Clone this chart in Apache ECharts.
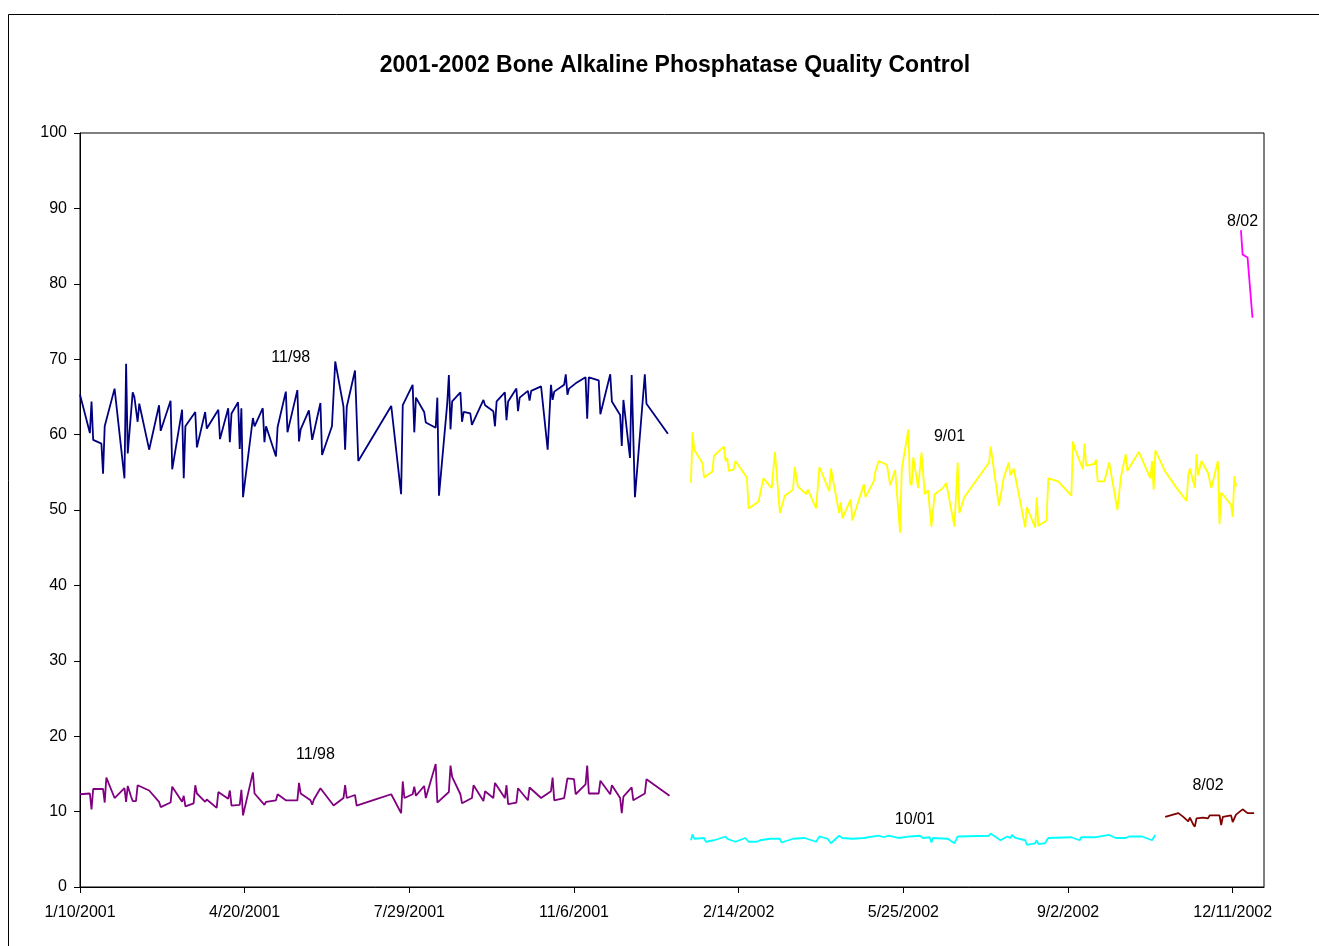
<!DOCTYPE html>
<html>
<head>
<meta charset="utf-8">
<title>2001-2002 Bone Alkaline Phosphatase Quality Control</title>
<script src="https://cdn.jsdelivr.net/npm/echarts@6/dist/echarts.min.js"></script>
<style>
  html, body { margin: 0; padding: 0; background: #fff; }
  #main { width: 1319px; height: 946px; }
</style>
</head>
<body>
<div id="main"></div>
<script>
// days are counted from 1/10/2001
var baseDate = Date.UTC(2001, 0, 10);
var dayTicks = [0, 100, 200, 300, 400, 500, 600, 700];

var navyDays = [0,6,7,8,13,14,15,21,27,28,29,32,33,35,36,42,48,49,55,56,62,63,64,70,71,76,77,84,85,90,91,92,96,97,98,99,105,106,111,112,113,
  119,120,125,126,132,133,134,139,140,141,146,147,153,155,160,161,162,167,169,189,195,196,202,203,204,209,210,216,217,218,223,224,225,226,231,232,233,237,
  238,245,246,251,252,253,258,259,260,265,266,267,272,273,274,280,284,286,287,288,294,295,296,297,301,302,307,308,309,315,316,322,323,328,329,330,334,335,337,343,344,357];
var navyVals = [65.3,60.2,64.4,59.3,58.8,54.8,61.1,66.1,54.2,69.4,57.5,65.6,65.0,61.7,64.1,58.0,63.9,60.5,64.5,55.4,63.3,54.2,61.1,63.0,58.3,63.0,60.8,63.3,59.4,63.5,59.0,62.8,64.3,58.1,63.5,51.7,62.2,61.1,63.5,59.0,61.1,
  57.1,61.0,65.7,60.3,65.9,59.1,60.7,63.2,63.0,59.3,64.2,57.3,61.1,69.7,63.7,58.0,63.7,68.5,56.5,63.8,52.1,63.9,66.6,60.3,64.9,63.0,61.6,60.9,64.9,51.9,64.1,67.9,60.7,64.4,65.6,61.7,63.0,62.8,
  61.3,64.6,63.9,63.1,61.1,64.4,65.6,61.9,64.4,66.1,63.1,64.9,65.8,64.5,65.8,66.4,58.0,66.6,64.6,65.7,66.6,68.0,65.3,66.1,66.8,66.6,67.6,62.1,67.6,67.2,62.7,68.0,64.4,62.6,58.5,64.6,56.9,67.9,51.7,68.0,64.1,60.1];

var purpleDays = [0,6,7,8,14,15,16,21,27,28,29,31,32,34,35,42,43,48,49,55,56,62,63,64,69,70,71,76,77,83,84,90,91,92,97,98,99,105,106,112,113,119,120,125,126,132,133,134,140,141,142,146,154,160,161,162,167,168,179,
  189,195,196,197,202,203,204,209,210,216,217,224,225,226,231,232,238,239,245,246,251,252,258,259,260,265,266,272,273,280,286,287,288,294,295,296,300,301,307,308,309,315,316,322,323,328,329,330,335,336,343,344,358];
var purpleVals = [12.3,12.4,10.3,13.0,13.0,11.2,14.5,11.8,13.1,11.3,13.4,12.0,11.4,11.4,13.5,12.8,12.7,11.3,10.6,11.2,13.3,11.3,12.1,10.7,11.1,13.5,12.4,11.3,11.6,10.5,12.6,11.7,12.8,10.8,10.9,12.9,9.5,15.2,12.4,10.9,11.3,11.5,12.3,11.5,11.6,11.5,13.8,12.4,11.5,10.9,11.6,13.1,10.8,11.8,13.5,11.8,12.2,10.8,11.6,
  12.3,9.8,14.0,11.8,12.3,13.3,12.1,13.4,11.8,16.3,11.2,12.6,16.1,14.6,12.3,11.1,11.8,13.5,11.4,12.7,11.8,13.8,11.8,13.5,11.0,11.2,13.1,11.5,13.2,11.8,12.7,14.5,11.5,11.8,13.1,14.4,14.3,12.3,13.6,16.1,12.4,12.4,14.1,12.3,13.5,11.8,9.8,12.0,13.2,11.5,12.4,14.3,12.1];

var yellowDays = [371,372,373,378,379,380,384,385,391,392,393,394,397,398,405,406,412,415,420,422,425,428,433,434,436,441,442,447,449,455,456,461,462,463,468,469,476,477,
  482,483,484,485,490,492,495,498,499,503,504,505,506,509,511,513,515,517,519,524,526,531,532,533,534,537,552,553,558,561,564,565,567,574,575,580,581,582,587,588,
  594,602,603,604,609,610,611,616,617,618,622,625,630,632,635,636,643,650,651,652,653,659,666,672,673,674,677,678,679,681,685,687,691,692,693,699,700,701,702];
var yellowVals = [53.6,60.3,58.0,56.2,54.3,54.4,55.1,57.2,58.4,56.5,56.9,55.2,55.4,56.5,54.3,50.2,51.1,54.2,52.9,57.7,49.6,51.9,52.7,55.7,53.1,52.1,52.7,50.2,55.7,52.5,55.5,49.6,51.0,48.9,51.4,48.6,53.4,51.7,
  53.8,55.1,55.0,56.5,56.0,53.3,55.3,47.0,55.4,60.7,53.6,53.3,57.0,52.9,57.6,52.1,52.6,47.8,52.1,52.9,53.6,47.8,47.6,56.3,49.6,51.7,56.3,58.4,50.6,54.3,56.3,54.6,55.5,47.7,50.4,47.7,51.7,47.9,48.6,54.2,
  53.8,51.9,59.1,58.2,55.4,58.8,55.9,56.1,56.7,53.8,53.8,56.3,50.0,54.3,57.4,55.2,57.7,54.2,56.5,52.7,57.9,55.1,52.9,51.2,54.6,55.5,52.9,57.4,54.6,56.5,54.9,52.9,56.5,48.1,52.3,50.7,49.1,54.5,53.1];

var cyanDays = [371,372,373,379,380,385,388,392,393,398,404,406,411,413,414,419,425,426,433,440,447,449,454,456,461,463,469,476,477,485,488,491,497,498,504,510,
  512,516,517,518,527,531,533,552,553,559,563,565,566,568,574,575,580,581,582,586,588,602,607,608,617,625,629,635,637,645,651,652,653];
var cyanVals = [6.2,7.0,6.4,6.5,6.0,6.2,6.4,6.7,6.4,6.0,6.5,6.0,6.0,6.2,6.0,6.4,6.4,5.9,6.4,6.5,6.0,6.7,6.4,5.8,6.8,6.5,6.4,6.5,6.7,6.8,6.6,6.8,6.5,6.7,6.7,6.8,
  6.5,6.6,5.9,6.5,6.4,5.8,6.7,6.8,7.1,6.2,6.7,6.5,6.9,6.5,6.2,5.6,5.8,6.2,5.7,5.8,6.5,6.6,6.2,6.6,6.6,6.9,6.5,6.5,6.7,6.7,6.2,6.0,6.9];

var darkRedDays = [659,667,670,673,674,676,677,678,682,685,686,688,692,693,694,699,700,702,703,706,709,713];
var darkRedVals = [9.3,9.8,9.3,8.7,9.2,8.3,8.0,9.1,9.2,9.1,9.5,9.5,9.5,8.2,9.3,9.5,8.6,9.6,9.8,10.3,9.8,9.8];

var magentaDays = [705,706,709,712];
var magentaVals = [87.1,83.9,83.5,75.5];

function pairs(days, vals) {
  return days.map(function (d, i) { return [d, vals[i]]; });
}
function dayLabel(d) {
  var dt = new Date(baseDate + d * 86400000);
  return (dt.getUTCMonth() + 1) + '/' + dt.getUTCDate() + '/' + dt.getUTCFullYear();
}
function tag(text, coord) {
  return {
    symbol: 'circle', symbolSize: 0,
    label: { show: true, position: 'inside', color: '#000', fontSize: 16, fontFamily: 'Liberation Sans, Arial' },
    data: [{ coord: coord, value: text }]
  };
}
function lineSeries(name, color, days, vals, mark) {
  return {
    name: name, type: 'line', showSymbol: false, symbol: 'none',
    lineStyle: { color: color, width: 1.8 },
    itemStyle: { color: color },
    data: pairs(days, vals),
    markPoint: mark
  };
}

var chart = echarts.init(document.getElementById('main'));
var font = 'Liberation Sans, Arial';
var option = {
  animation: false,
  backgroundColor: '#fff',
  title: {
    text: '2001-2002 Bone Alkaline Phosphatase Quality Control',
    left: 670, top: 49, textAlign: 'center',
    textStyle: { fontFamily: font, fontSize: 23, fontWeight: 'bold', color: '#000' }
  },
  graphic: [{
    type: 'rect', silent: true,
    shape: { x: 8.5, y: 14.5, width: 1400, height: 1000 },
    style: { fill: 'none', stroke: '#000', lineWidth: 1 }
  }],
  grid: { left: 80, right: 55, top: 133, bottom: 59, show: true, borderColor: '#000', borderWidth: 1, backgroundColor: 'transparent' },
  xAxis: {
    type: 'value', min: 0, max: 719, interval: 100,
    splitLine: { show: false },
    axisLine: { lineStyle: { color: '#000' } },
    axisTick: { length: 6, lineStyle: { color: '#000' }, customValues: dayTicks },
    axisLabel: { color: '#000', fontSize: 16, fontFamily: font, margin: 18, customValues: dayTicks, formatter: dayLabel }
  },
  yAxis: {
    type: 'value', min: 0, max: 100, interval: 10,
    splitLine: { show: false },
    axisLine: { show: true, lineStyle: { color: '#000' } },
    axisTick: { show: true, length: 6, lineStyle: { color: '#000' } },
    axisLabel: { color: '#000', fontSize: 16, fontFamily: font, margin: 13 }
  },
  series: [
    lineSeries('11/98 high', '#000080', navyDays, navyVals, tag('11/98', [128, 70.2])),
    lineSeries('11/98 low', '#800080', purpleDays, purpleVals, tag('11/98', [143, 17.5])),
    lineSeries('9/01', '#FFFF00', yellowDays, yellowVals, tag('9/01', [528, 59.8])),
    lineSeries('10/01', '#00FFFF', cyanDays, cyanVals, tag('10/01', [507, 8.9])),
    lineSeries('8/02 low', '#800000', darkRedDays, darkRedVals, tag('8/02', [685, 13.5])),
    lineSeries('8/02 high', '#FF00FF', magentaDays, magentaVals, tag('8/02', [706, 88.3]))
  ]
};
chart.setOption(option);
</script>
</body>
</html>
